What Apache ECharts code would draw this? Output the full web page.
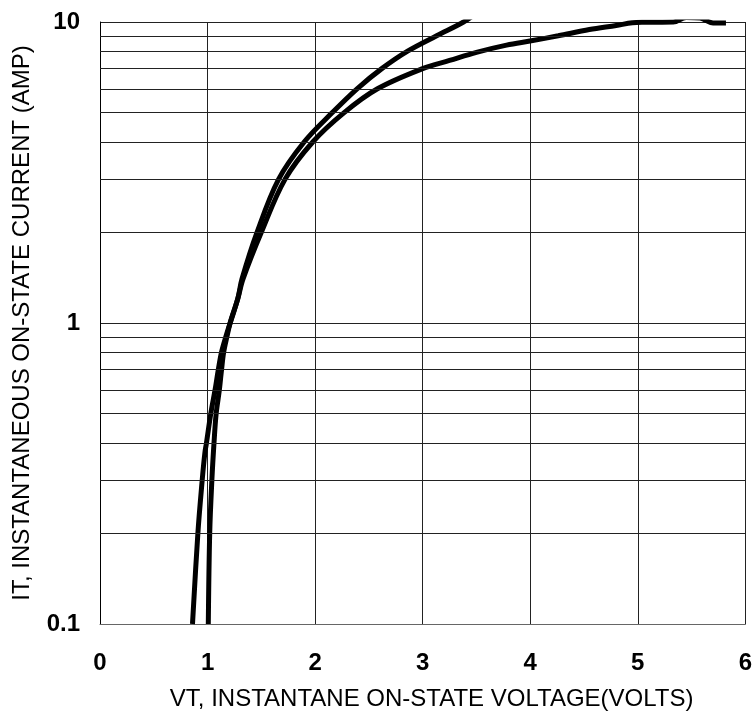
<!DOCTYPE html>
<html>
<head>
<meta charset="utf-8">
<script src="https://cdn.jsdelivr.net/npm/echarts@6/dist/echarts.min.js"></script>
<style>
html,body{margin:0;padding:0;background:#fff;}
#chart{width:755px;height:718px;}
</style>
</head>
<body>
<div id="chart"></div>
<script>
// Curve A (left, steeper)
const voltA = [0.86, 0.91, 0.95, 0.975, 0.99, 1.03, 1.07, 1.10, 1.13, 1.17, 1.21, 1.28, 1.32, 1.46, 1.66, 1.90, 2.16, 2.39, 2.62, 2.86, 3.13, 3.38, 3.50];
const currA = [0.1, 0.2, 0.3, 0.37, 0.4, 0.5, 0.6, 0.7, 0.8, 0.9, 1.0, 1.2, 1.4, 2, 3, 4, 5, 6, 7, 8, 9, 10, 10.7];
// Curve B (right)
const voltB = [1.007, 1.02, 1.04, 1.06, 1.08, 1.11, 1.13, 1.15, 1.18, 1.21, 1.28, 1.33, 1.50, 1.72, 1.98, 2.27, 2.58, 3.00, 3.25, 3.50, 3.78, 4.01, 4.26, 4.55, 4.80, 4.95, 5.05, 5.33, 5.45, 5.58, 5.70, 5.82];
const currB = [0.1, 0.2, 0.3, 0.4, 0.5, 0.6, 0.7, 0.8, 0.9, 1.0, 1.2, 1.4, 2, 3, 4, 5, 6, 7, 7.45, 7.93, 8.38, 8.66, 9.0, 9.44, 9.74, 9.94, 9.98, 10.0, 10.35, 10.3, 9.93, 9.93];
// Axis ticks
const xTicks = [0, 1, 2, 3, 4, 5, 6];
const yMajorTicks = [0.1, 1, 10];
const yMinorGrid = [0.2, 0.3, 0.4, 0.5, 0.6, 0.7, 0.8, 0.9, 2, 3, 4, 5, 6, 7, 8, 9];

const pairs = (xs, ys) => xs.map((x, i) => [x, ys[i]]);
const FONT = 'Liberation Sans, Arial, sans-serif';

const chart = echarts.init(document.getElementById('chart'));
chart.setOption({
  animation: false,
  backgroundColor: '#fff',
  grid: { left: 100, right: 9, top: 22, bottom: 94, containLabel: false },
  xAxis: {
    type: 'value',
    min: xTicks[0], max: xTicks[xTicks.length - 1], interval: 1,
    name: 'VT, INSTANTANE ON-STATE VOLTAGE(VOLTS)',
    nameLocation: 'middle',
    nameGap: 63,
    nameTextStyle: { fontFamily: FONT, fontSize: 24, color: '#000', padding: [0, 0, 0, 18] },
    axisLine: { show: true, lineStyle: { color: '#666', width: 1 } },
    axisTick: { show: false },
    axisLabel: { margin: 27, fontFamily: FONT, fontWeight: 'bold', fontSize: 24, color: '#000' },
    splitLine: { show: true, showMinLine: false, lineStyle: { color: '#222', width: 1 } }
  },
  yAxis: {
    type: 'log',
    logBase: 10,
    min: yMajorTicks[0], max: yMajorTicks[yMajorTicks.length - 1],
    name: 'IT, INSTANTANEOUS ON-STATE CURRENT (AMP)',
    nameLocation: 'middle',
    nameGap: 66,
    nameTextStyle: { fontFamily: FONT, fontSize: 24, color: '#000', padding: [0, 0, 0, 0] },
    axisLine: { show: true, lineStyle: { color: '#000', width: 1 } },
    axisTick: { show: false },
    axisLabel: {
      margin: 20, fontFamily: FONT, fontWeight: 'bold', fontSize: 24, color: '#000',
      formatter: v => String(v)
    },
    splitLine: { show: true, lineStyle: { color: '#222', width: 1 } }
  },
  series: [
    {
      type: 'line',
      data: pairs(voltA, currA),
      symbol: 'none',
      smooth: 0.35,
      clip: true,
      lineStyle: { color: '#000', width: 5 },
      markLine: {
        silent: true,
        symbol: 'none',
        label: { show: false },
        lineStyle: { color: '#222', width: 1, type: 'solid' },
        data: yMinorGrid.map(v => ({ yAxis: v }))
      },
      z: 3
    },
    {
      type: 'line',
      data: pairs(voltB, currB),
      symbol: 'none',
      smooth: 0.35,
      clip: true,
      lineStyle: { color: '#000', width: 5 },
      z: 3
    }
  ]
});
</script>
</body>
</html>
